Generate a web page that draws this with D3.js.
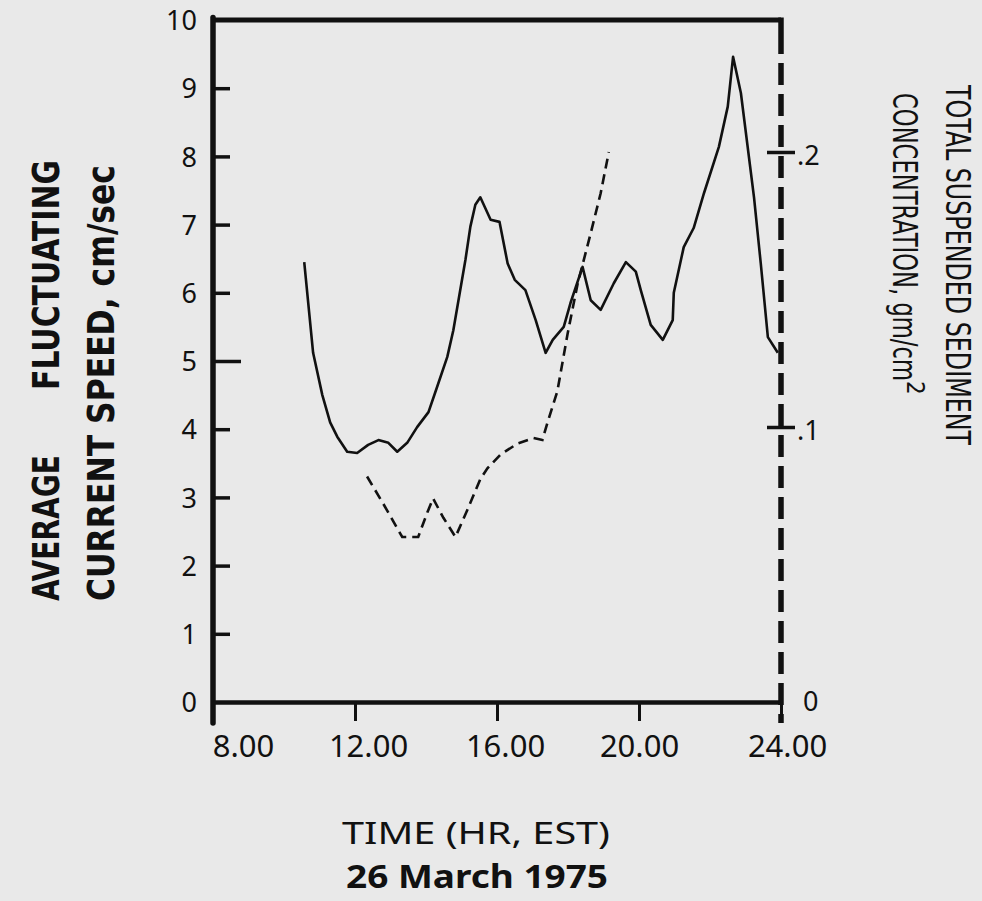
<!DOCTYPE html>
<html>
<head>
<meta charset="utf-8">
<script src="https://cdn.jsdelivr.net/npm/d3@7"></script>
<style>
  body { margin: 0; background: #e9e9e9; }
  svg { display: block; }
  .lbl { font-family: "Noto Sans", "DejaVu Sans", sans-serif; fill: #111; }
  .narrow { font-family: "Liberation Sans Narrow", "DejaVu Sans Condensed", sans-serif; font-stretch: condensed; fill: #111; }
</style>
</head>
<body>
<svg id="chart" width="982" height="901"></svg>
<script>
// hours (EST) and average fluctuating current speed, cm/sec
const speedHours = [10.57, 10.82, 11.08, 11.3, 11.5, 11.78, 12.06, 12.37, 12.66, 12.94, 13.19, 13.47, 13.75, 14.07, 14.3, 14.6, 14.77, 15.11, 15.25, 15.39, 15.53, 15.82, 16.07, 16.3, 16.5, 16.8, 17.09, 17.37, 17.57, 17.88, 18.07, 18.41, 18.64, 18.92, 19.29, 19.63, 19.91, 20.05, 20.33, 20.67, 20.95, 20.98, 21.26, 21.54, 21.83, 22.25, 22.5, 22.65, 22.87, 23.24, 23.43, 23.63, 23.91];
const speedValues = [6.45, 5.12, 4.5, 4.1, 3.89, 3.67, 3.65, 3.77, 3.84, 3.8, 3.67, 3.8, 4.03, 4.25, 4.6, 5.06, 5.45, 6.48, 6.97, 7.29, 7.4, 7.07, 7.04, 6.43, 6.19, 6.04, 5.6, 5.12, 5.31, 5.5, 5.85, 6.38, 5.89, 5.75, 6.14, 6.45, 6.31, 6.04, 5.53, 5.31, 5.6, 6.0, 6.67, 6.95, 7.46, 8.14, 8.73, 9.46, 8.93, 7.4, 6.43, 5.35, 5.12];

// hours (EST) and total suspended sediment concentration, gm/cm^2
const sedHours = [12.34, 12.8, 13.33, 13.78, 14.04, 14.2, 14.49, 14.83, 15.17, 15.53, 15.73, 16.1, 16.58, 17.03, 17.28, 17.42, 17.7, 17.99, 18.27, 18.64, 18.92, 19.15];
const sedValues = [0.082, 0.072, 0.06, 0.06, 0.069, 0.074, 0.067, 0.06, 0.07, 0.081, 0.085, 0.09, 0.094, 0.096, 0.0953, 0.1015, 0.113, 0.134, 0.152, 0.1705, 0.185, 0.2];

const timeTicks = [8, 12, 16, 20, 24];
const timeLabels = ["8.00", "12.00", "16.00", "20.00", "24.00"];
const speedTicks = [0, 1, 2, 3, 4, 5, 6, 7, 8, 9, 10];
const sedTicks = [0, 0.1, 0.2];
const sedLabels = ["0", ".1", ".2"];

const svg = d3.select("#chart");
const ink = "#111";

const x = d3.scaleLinear().domain([8, 24]).range([213, 781]);
const y = d3.scaleLinear().domain([0, 10]).range([702, 20]);
const yR = d3.scaleLinear().domain([0, 0.2]).range([702, 152]);

// frame: top border
svg.append("line")
  .attr("x1", x(8)).attr("x2", x(24))
  .attr("y1", y(10)).attr("y2", y(10))
  .attr("stroke", ink).attr("stroke-width", 5);

// left axis
const gl = svg.append("g")
  .attr("transform", "translate(" + x(8) + ",0)")
  .call(d3.axisLeft(y).tickValues(speedTicks).tickSizeInner(-17).tickSizeOuter(0).tickPadding(16));
gl.select(".domain").remove();
gl.selectAll(".tick line").attr("stroke", ink).attr("stroke-width", 3.5)
  .attr("x2", d => d === 5 ? 28 : 17);
gl.selectAll(".tick").filter(d => d === 0 || d === 10).select("line").remove();
gl.selectAll(".tick text").attr("class", "lbl").style("font-size", "27px").attr("dy", "0.36em");
svg.append("line")
  .attr("x1", x(8)).attr("x2", x(8))
  .attr("y1", y(10) - 2.5).attr("y2", 723)
  .attr("stroke", ink).attr("stroke-width", 5.5).attr("stroke-linecap", "round");

// bottom axis
const gb = svg.append("g")
  .attr("transform", "translate(0," + y(0) + ")")
  .call(d3.axisBottom(x).tickValues(timeTicks).tickSizeInner(19).tickSizeOuter(0).tickPadding(14)
    .tickFormat((d, i) => timeLabels[i]));
gb.select(".domain").attr("stroke", ink).attr("stroke-width", 4.5);
gb.selectAll(".tick line").attr("stroke", ink).attr("stroke-width", 3);
gb.selectAll(".tick text").attr("class", "lbl").style("font-size", "31px")
  .attr("dx", (d, i) => [30, 13, 8, 0, 6][i]);

// right axis (dashed)
svg.append("line")
  .attr("x1", x(24)).attr("x2", x(24))
  .attr("y1", y(10) - 2.5).attr("y2", y(10) + 12)
  .attr("stroke", ink).attr("stroke-width", 5.5);
svg.append("line")
  .attr("x1", x(24)).attr("x2", x(24))
  .attr("y1", y(10) + 12).attr("y2", 723)
  .attr("stroke", ink).attr("stroke-width", 5.5)
  .attr("stroke-dasharray", "22,9");
const gr = svg.append("g")
  .attr("transform", "translate(" + x(24) + ",0)")
  .call(d3.axisRight(yR).tickValues(sedTicks).tickSizeInner(14).tickSizeOuter(0).tickPadding(2)
    .tickFormat((d, i) => sedLabels[i]));
gr.select(".domain").remove();
gr.selectAll(".tick line").attr("stroke", ink).attr("stroke-width", 3.5).attr("x1", -14);
gr.selectAll(".tick").filter(d => d === 0).select("line").remove();
gr.selectAll(".tick text").attr("class", "lbl").style("font-size", "27px")
  .attr("dx", d => d === 0 ? 6 : 0).attr("dy", d => d === 0 ? "0.3em" : "0.45em");

// data lines
const speedLine = d3.line().x(d => x(d[0])).y(d => y(d[1]));
svg.append("path")
  .datum(d3.zip(speedHours, speedValues))
  .attr("fill", "none").attr("stroke", ink).attr("stroke-width", 2.6)
  .attr("stroke-linejoin", "round").attr("d", speedLine);

const sedLine = d3.line().x(d => x(d[0])).y(d => yR(d[1]));
svg.append("path")
  .datum(d3.zip(sedHours, sedValues))
  .attr("fill", "none").attr("stroke", ink).attr("stroke-width", 2.6)
  .attr("stroke-dasharray", "10,6").attr("d", sedLine);

// titles
const leftTitle = (txt, tx, ty, anchor, len) => {
  svg.append("text").attr("class", "narrow")
    .attr("transform", "translate(" + tx + "," + ty + ") rotate(-90)")
    .attr("text-anchor", anchor)
    .attr("textLength", len).attr("lengthAdjust", "spacingAndGlyphs")
    .style("font-size", "37px").style("font-weight", "bold")
    .text(txt);
};
leftTitle("AVERAGE", 59, 601, "start", 146);
leftTitle("FLUCTUATING", 59, 160, "end", 230);
leftTitle("CURRENT  SPEED,  cm/sec", 114, 601, "start", 436);

svg.append("text").attr("class", "narrow")
  .attr("transform", "translate(946,85) rotate(90)")
  .attr("textLength", 360).attr("lengthAdjust", "spacingAndGlyphs")
  .style("font-size", "33px")
  .text("TOTAL  SUSPENDED  SEDIMENT");
const conc = svg.append("text").attr("class", "narrow")
  .attr("transform", "translate(893,93) rotate(90)")
  .style("font-size", "33px");
conc.append("tspan").text("CONCENTRATION,  gm/cm")
  .attr("textLength", 288).attr("lengthAdjust", "spacingAndGlyphs");
conc.append("tspan").text("2").attr("dy", -14).style("font-size", "24px");

svg.append("text").attr("class", "lbl")
  .attr("x", 476).attr("y", 844).attr("text-anchor", "middle")
  .attr("textLength", 268).attr("lengthAdjust", "spacingAndGlyphs")
  .style("font-size", "31px")
  .text("TIME  (HR, EST)");
svg.append("text").attr("class", "lbl")
  .attr("x", 477).attr("y", 888).attr("text-anchor", "middle")
  .attr("textLength", 262).attr("lengthAdjust", "spacingAndGlyphs")
  .style("font-size", "32px").style("font-weight", "bold")
  .text("26 March 1975");
</script>
</body>
</html>
